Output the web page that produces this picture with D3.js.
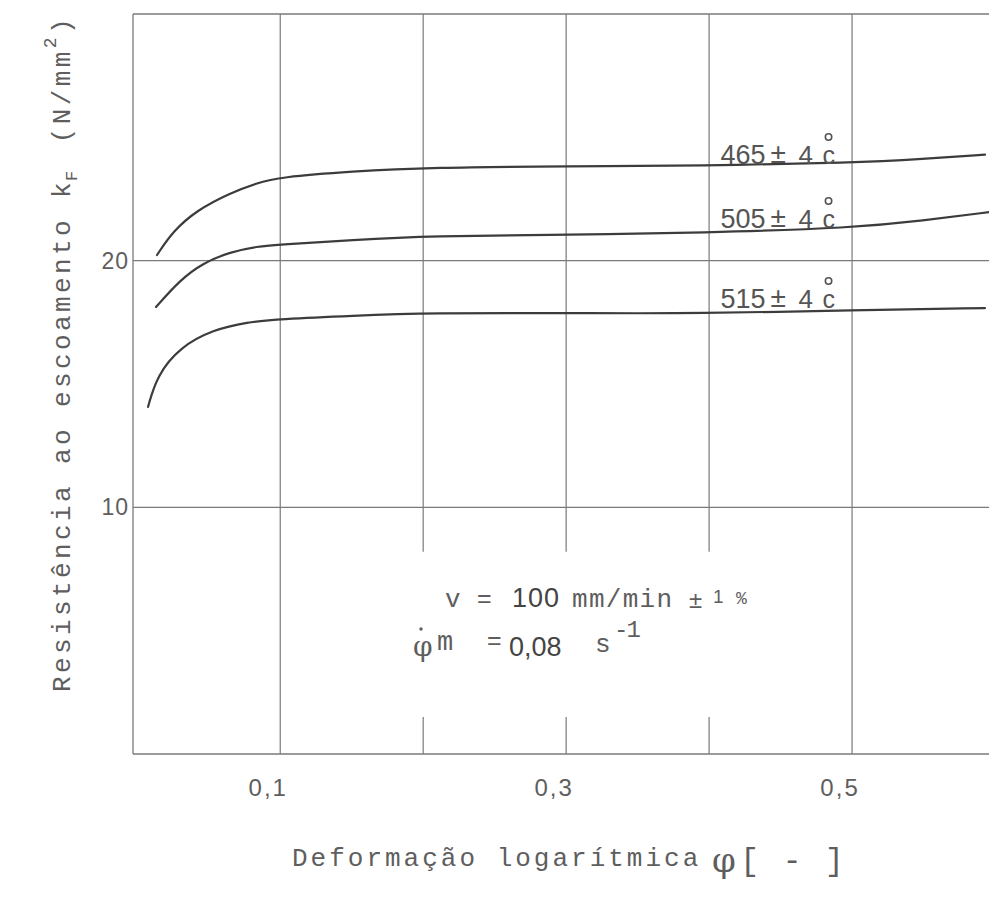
<!DOCTYPE html>
<html><head><meta charset="utf-8">
<script src="https://cdn.jsdelivr.net/npm/d3@7"></script>
<style>
html,body{margin:0;padding:0;background:#fff;}
svg{display:block;}
</style></head>
<body><svg id="chart" width="989" height="899"></svg>
<script>
// ---- data ----
const phi465 = [0.0138, 0.025, 0.0418, 0.0649, 0.0837, 0.0991, 0.15, 0.2048, 0.3027, 0.3936, 0.502, 0.5496, 0.593];
const kf465  = [20.23, 21.20, 22.05, 22.74, 23.15, 23.38, 23.62, 23.78, 23.83, 23.85, 23.97, 24.12, 24.30];
const phi505 = [0.0131, 0.0299, 0.046, 0.065, 0.084, 0.1, 0.15, 0.205, 0.303, 0.394, 0.502, 0.5496, 0.596];
const kf505  = [18.12, 19.22, 19.91, 20.35, 20.58, 20.65, 20.84, 21.00, 21.05, 21.13, 21.33, 21.62, 21.97];
const phi515 = [0.0075, 0.0138, 0.030, 0.053, 0.077, 0.099, 0.15, 0.205, 0.303, 0.394, 0.502, 0.593];
const kf515  = [14.07, 15.35, 16.50, 17.20, 17.51, 17.63, 17.77, 17.88, 17.88, 17.85, 18.00, 18.08];
const seriesLabels = ["465", "505", "515"];
const xTickValues = [0.1, 0.3, 0.5];
const xTickLabels = ["0,1", "0,3", "0,5"];
const yTickValues = [10, 20];
const yTickLabels = ["10", "20"];
const xGridFull = [0.1, 0.5, 0.6];
const xGridBroken = [0.2, 0.3, 0.4];
const gapTop = 8.2, gapBottom = 1.5;   // vertical gridline interruption (kf units)
const labelPhi = 0.408;

// ---- scales ----
const svg = d3.select("#chart");
const x = d3.scaleLinear().domain([-0.003, 0.6]).range([133, 995]);
const y = d3.scaleLinear().domain([0, 30]).range([754, 14]);

const gridColor = "#7a7a7a";
const textColor = "#5e5e5e";
const mono = "'Liberation Mono', 'DejaVu Sans Mono', monospace";
const sans = "'Liberation Sans', Arial, sans-serif";

const g = svg.append("g");

// frame: left border, horizontal lines
g.append("line").attr("x1", x(-0.003)).attr("x2", x(-0.003)).attr("y1", y(30)).attr("y2", y(0))
  .attr("stroke", gridColor).attr("stroke-width", 1.3);
[0, 10, 20, 30].forEach(v => {
  g.append("line").attr("x1", x(-0.003)).attr("x2", x(0.6)).attr("y1", y(v)).attr("y2", y(v))
    .attr("stroke", gridColor).attr("stroke-width", 1.3);
});
xGridFull.forEach(v => {
  g.append("line").attr("x1", x(v)).attr("x2", x(v)).attr("y1", y(30)).attr("y2", y(0))
    .attr("stroke", gridColor).attr("stroke-width", 1.2);
});
xGridBroken.forEach(v => {
  g.append("line").attr("x1", x(v)).attr("x2", x(v)).attr("y1", y(30)).attr("y2", y(gapTop))
    .attr("stroke", gridColor).attr("stroke-width", 1.2);
  g.append("line").attr("x1", x(v)).attr("x2", x(v)).attr("y1", y(gapBottom)).attr("y2", y(0))
    .attr("stroke", gridColor).attr("stroke-width", 1.2);
});

// tick labels
yTickValues.forEach((v, i) => {
  g.append("text").attr("x", 129).attr("y", y(v) + 8).attr("text-anchor", "end")
    .attr("font-family", sans).attr("font-size", 23).attr("letter-spacing", 1).attr("fill", textColor).text(yTickLabels[i]);
});
xTickValues.forEach((v, i) => {
  g.append("text").attr("x", x(v) - 12).attr("y", 796).attr("text-anchor", "middle")
    .attr("font-family", sans).attr("font-size", 24).attr("letter-spacing", 2).attr("fill", textColor).text(xTickLabels[i]);
});

// curves
const line = d3.line().x(d => x(d[0])).y(d => y(d[1])).curve(d3.curveBasis);
const series = [
  {phi: phi465, kf: kf465},
  {phi: phi505, kf: kf505},
  {phi: phi515, kf: kf515}
];
series.forEach(s => {
  const pts = s.phi.map((p, i) => [p, s.kf[i]]);
  g.append("path").attr("d", line(pts)).attr("fill", "none")
    .attr("stroke", "#3c3c3c").attr("stroke-width", 2.2).attr("stroke-linecap", "round");
});

// curve labels
const labelY = [164, 228, 308];
seriesLabels.forEach((lab, i) => {
  const x0 = x(labelPhi);
  const yb = labelY[i];
  g.append("text").attr("x", x0).attr("y", yb).attr("font-family", sans).attr("font-size", 27)
    .attr("fill", "#555").text(lab);
  g.append("text").attr("x", x0 + 50).attr("y", yb - 1).attr("font-family", sans).attr("font-size", 28)
    .attr("fill", "#555").text("±");
  g.append("text").attr("x", x0 + 78).attr("y", yb).attr("font-family", sans).attr("font-size", 26)
    .attr("fill", "#555").text("4");
  g.append("circle").attr("cx", x0 + 108).attr("cy", yb - 27).attr("r", 3.2)
    .attr("fill", "none").attr("stroke", "#555").attr("stroke-width", 1.6);
  g.append("text").attr("x", x0 + 102).attr("y", yb).attr("font-family", sans).attr("font-size", 25)
    .attr("fill", "#555").text("c");
});

// annotation
const ann = g.append("g").attr("fill", textColor);
ann.append("text").attr("x", 445).attr("y", 607).attr("font-family", mono).attr("font-size", 26).text("v");
ann.append("text").attr("x", 477).attr("y", 607).attr("font-family", sans).attr("font-size", 25).text("=");
ann.append("text").attr("x", 512).attr("y", 607).attr("font-family", sans).attr("font-size", 27)
  .attr("letter-spacing", 1).attr("fill", "#444").text("100");
ann.append("text").attr("x", 572).attr("y", 607).attr("font-family", mono).attr("font-size", 26)
  .attr("letter-spacing", 1.3).text("mm/min");
ann.append("text").attr("x", 689).attr("y", 608).attr("font-family", sans).attr("font-size", 24).text("±");
ann.append("text").attr("x", 713).attr("y", 603).attr("font-family", sans).attr("font-size", 19).text("1");
ann.append("text").attr("x", 736).attr("y", 604).attr("font-family", mono).attr("font-size", 18).text("%");

ann.append("text").attr("x", 413).attr("y", 656).attr("font-family", "'DejaVu Serif', serif").attr("font-size", 28).text("φ");
ann.append("circle").attr("cx", 421).attr("cy", 629).attr("r", 1.7);
ann.append("text").attr("x", 437).attr("y", 650).attr("font-family", mono).attr("font-size", 27).text("m");
ann.append("text").attr("x", 487).attr("y", 649).attr("font-family", sans).attr("font-size", 25).text("=");
ann.append("text").attr("x", 509).attr("y", 656).attr("font-family", sans).attr("font-size", 27)
  .attr("fill", "#444").text("0,08");
ann.append("text").attr("x", 595).attr("y", 652).attr("font-family", mono).attr("font-size", 26).text("s");
ann.append("text").attr("x", 614).attr("y", 637).attr("font-family", mono).attr("font-size", 24)
  .attr("letter-spacing", -2).text("-1");

// y axis title
const yt = g.append("text").attr("transform", "translate(70,692) rotate(-90)")
  .attr("font-family", mono).attr("font-size", 26).attr("letter-spacing", 3.4).attr("fill", textColor);
yt.append("tspan").text("Resistência ao escoamento k");
yt.append("tspan").attr("font-size", 17).attr("dy", 7).attr("dx", -2).text("F");
yt.append("tspan").attr("font-size", 26).attr("dy", -7).attr("dx", 24).text("(N/mm");
yt.append("tspan").attr("font-size", 18).attr("dy", -14).text("2");
yt.append("tspan").attr("font-size", 26).attr("dy", 14).text(")");

// x axis title
g.append("text").attr("x", 292).attr("y", 866)
  .attr("font-family", mono).attr("font-size", 26).attr("letter-spacing", 3.0).attr("fill", textColor)
  .text("Deformação logarítmica");
g.append("text").attr("x", 712).attr("y", 872).attr("font-family", "'DejaVu Serif', serif")
  .attr("font-size", 34).attr("fill", textColor).text("φ");
g.append("text").attr("x", 740).attr("y", 870).attr("font-family", mono).attr("font-size", 32)
  .attr("fill", textColor).attr("letter-spacing", 2).text("[ - ]");
</script>
</body></html>
